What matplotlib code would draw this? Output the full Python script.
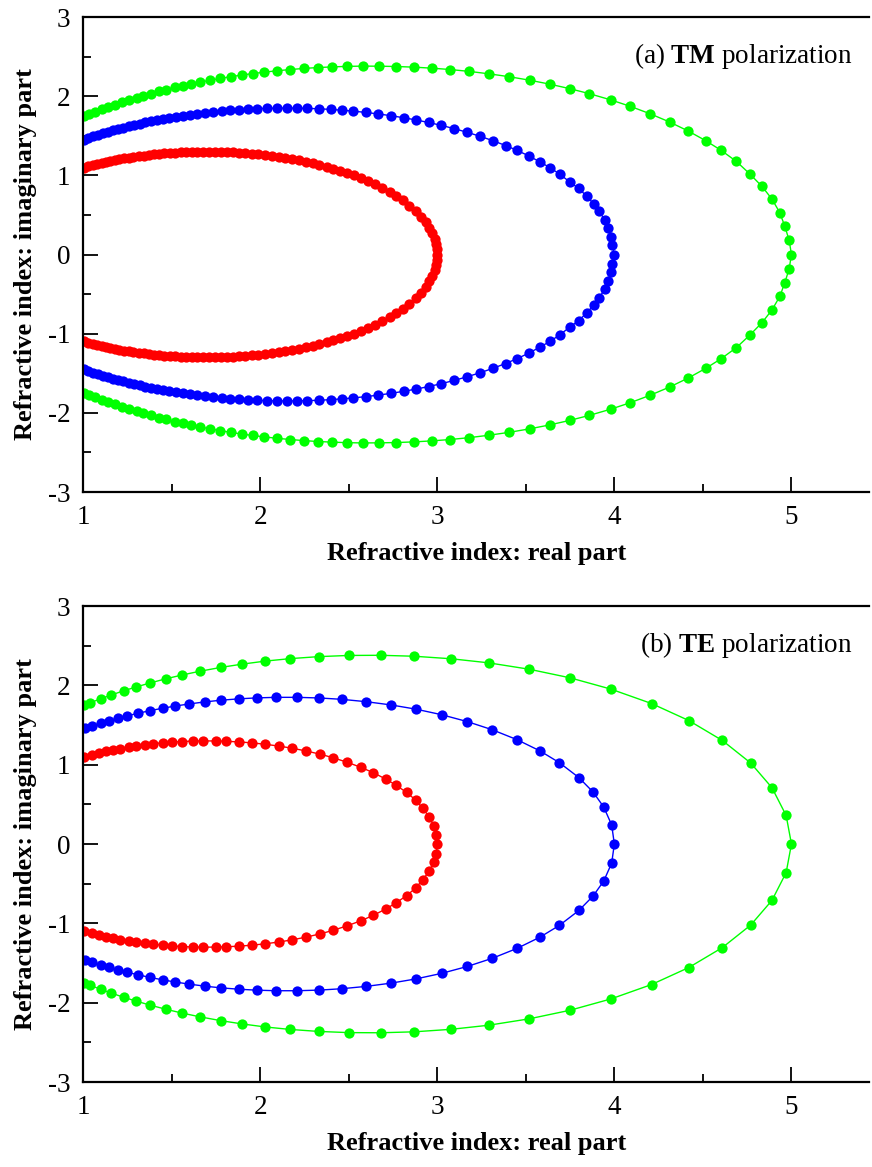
import matplotlib
matplotlib.use("Agg")
from matplotlib import pyplot as plt
from matplotlib.ticker import MultipleLocator

# metade superior de cada curva (parte imaginaria >= 0), da esquerda ate ao vertice
tm_red_x = [1.003, 1.028, 1.054, 1.079, 1.105, 1.130, 1.155, 1.181, 1.206, 1.232, 1.257,
            1.285, 1.314, 1.342, 1.370, 1.398, 1.427, 1.458, 1.489, 1.520, 1.551, 1.582, 1.613, 1.644,
            1.678, 1.712, 1.746, 1.780, 1.814, 1.847, 1.881, 1.915,
            1.953, 1.990, 2.028, 2.066, 2.106, 2.143, 2.182, 2.220, 2.260, 2.298, 2.335, 2.375,
            2.414, 2.452, 2.492, 2.531, 2.571, 2.610, 2.650, 2.689, 2.731, 2.768, 2.806, 2.843,
            2.878, 2.908, 2.934, 2.955, 2.972, 2.985, 2.993, 2.998, 3.000]
tm_red_y = [1.097, 1.113, 1.128, 1.142, 1.156, 1.168, 1.180, 1.192, 1.203, 1.213, 1.222,
            1.232, 1.241, 1.250, 1.257, 1.264, 1.271, 1.277, 1.283, 1.287, 1.291, 1.295, 1.297, 1.299,
            1.300, 1.300, 1.299, 1.298, 1.295, 1.292, 1.287, 1.282,
            1.275, 1.267, 1.258, 1.247, 1.235, 1.222, 1.207, 1.191, 1.173, 1.154, 1.134, 1.111,
            1.086, 1.060, 1.031, 1.000, 0.965, 0.928, 0.887, 0.844, 0.792, 0.741, 0.683, 0.619,
            0.550, 0.480, 0.410, 0.340, 0.270, 0.200, 0.135, 0.070, 0.000]

tm_blue_x = [1.003, 1.028, 1.056, 1.085, 1.113, 1.141, 1.169, 1.198, 1.226, 1.257, 1.288, 1.319, 1.350,
             1.384, 1.418, 1.452, 1.488, 1.525, 1.565, 1.605, 1.646, 1.691, 1.736, 1.784, 1.831, 1.880, 1.931, 1.983,
             2.038, 2.094, 2.151, 2.211, 2.267, 2.333, 2.399, 2.463, 2.527, 2.597, 2.667, 2.738, 2.810, 2.880,
             2.951, 3.024, 3.096, 3.169, 3.243, 3.315, 3.386, 3.450,
             3.516, 3.578, 3.638, 3.693, 3.747, 3.798, 3.843, 3.883, 3.915, 3.945, 3.966, 3.979, 3.989, 4.000]
tm_blue_y = [1.451, 1.471, 1.492, 1.513, 1.532, 1.551, 1.568, 1.586, 1.603, 1.620, 1.637, 1.653, 1.668,
             1.684, 1.699, 1.713, 1.728, 1.741, 1.755, 1.768, 1.780, 1.792, 1.803, 1.813, 1.822, 1.830, 1.837, 1.842,
             1.847, 1.849, 1.850, 1.849, 1.846, 1.841, 1.833, 1.823, 1.811, 1.795, 1.776, 1.754, 1.728, 1.700,
             1.668, 1.631, 1.590, 1.544, 1.493, 1.437, 1.377, 1.316,
             1.247, 1.172, 1.096, 1.013, 0.919, 0.836, 0.739, 0.641, 0.545, 0.439, 0.330, 0.221, 0.116, 0.000]

tm_green_x = [1.003, 1.034, 1.068, 1.105, 1.141, 1.179, 1.219, 1.262, 1.303, 1.341, 1.382,
              1.428, 1.471, 1.518, 1.563, 1.610, 1.661, 1.718, 1.774, 1.834, 1.897, 1.959,
              2.024, 2.098, 2.171, 2.249, 2.326, 2.408, 2.493, 2.582, 2.674, 2.770, 2.868, 2.970,
              3.073, 3.182, 3.291, 3.404, 3.522, 3.634, 3.747, 3.859, 3.979, 4.090,
              4.203, 4.312, 4.418, 4.516, 4.603, 4.689, 4.764, 4.834, 4.890, 4.934, 4.962, 4.987, 5.000]
tm_green_y = [1.746, 1.775, 1.804, 1.836, 1.865, 1.894, 1.924, 1.955, 1.982, 2.007, 2.033,
              2.060, 2.084, 2.110, 2.132, 2.155, 2.178, 2.202, 2.225, 2.246, 2.268, 2.286,
              2.304, 2.322, 2.337, 2.351, 2.362, 2.370, 2.377, 2.380, 2.379, 2.375, 2.367, 2.354,
              2.337, 2.313, 2.283, 2.247, 2.202, 2.153, 2.096, 2.032, 1.954, 1.872,
              1.777, 1.674, 1.559, 1.438, 1.316, 1.176, 1.020, 0.860, 0.700, 0.530, 0.360, 0.180, 0.000]

te_red_x = [1.006, 1.050, 1.090, 1.130, 1.170, 1.210, 1.260, 1.300, 1.350, 1.395,
            1.450, 1.500, 1.560, 1.620, 1.680, 1.750, 1.810, 1.880, 1.955,
            2.030, 2.105, 2.180, 2.260, 2.340, 2.410, 2.490, 2.570, 2.640, 2.710,
            2.768, 2.827, 2.878, 2.918, 2.954, 2.980, 2.995, 3.000]
te_red_y = [1.099, 1.126, 1.148, 1.168, 1.187, 1.204, 1.223, 1.237, 1.252, 1.264,
            1.276, 1.285, 1.292, 1.298, 1.300, 1.299, 1.295, 1.287, 1.275,
            1.257, 1.235, 1.208, 1.173, 1.132, 1.089, 1.032, 0.966, 0.898, 0.818,
            0.741, 0.650, 0.555, 0.450, 0.345, 0.230, 0.120, 0.000]

te_blue_x = [1.010, 1.050, 1.100, 1.145, 1.200, 1.250, 1.310, 1.380, 1.450,
             1.520, 1.600, 1.690, 1.780, 1.880, 1.980, 2.090, 2.210,
             2.335, 2.460, 2.600, 2.740, 2.880, 3.025, 3.170, 3.310,
             3.450, 3.580, 3.690, 3.800, 3.880, 3.940, 3.985, 4.000]
te_blue_y = [1.457, 1.487, 1.523, 1.553, 1.587, 1.616, 1.648, 1.682, 1.712,
             1.739, 1.766, 1.792, 1.813, 1.830, 1.842, 1.849, 1.849,
             1.841, 1.824, 1.794, 1.753, 1.700, 1.630, 1.543, 1.441,
             1.316, 1.174, 1.025, 0.837, 0.655, 0.467, 0.240, 0.000]

te_green_x = [1.005, 1.040, 1.100, 1.160, 1.230, 1.300, 1.380, 1.470, 1.560, 1.660,
              1.780, 1.900, 2.030, 2.170, 2.330, 2.500, 2.680, 2.870, 3.080, 3.290,
              3.520, 3.750, 3.980, 4.210, 4.420, 4.610, 4.770, 4.890, 4.970, 5.000]
te_green_y = [1.748, 1.780, 1.831, 1.879, 1.932, 1.980, 2.031, 2.084, 2.131, 2.178,
              2.227, 2.268, 2.306, 2.337, 2.362, 2.377, 2.379, 2.367, 2.335, 2.284,
              2.203, 2.095, 1.953, 1.771, 1.557, 1.305, 1.021, 0.710, 0.360, 0.000]

paineis = [
    ("(a) ", "TM", [(tm_red_x, tm_red_y, "#ff0000"), (tm_blue_x, tm_blue_y, "#0000ff"),
                    (tm_green_x, tm_green_y, "#00ff00")]),
    ("(b) ", "TE", [(te_red_x, te_red_y, "#ff0000"), (te_blue_x, te_blue_y, "#0000ff"),
                    (te_green_x, te_green_y, "#00ff00")]),
]

plt.rcParams['font.family'] = ['Liberation Serif', 'DejaVu Serif']
plt.rcParams['mathtext.fontset'] = 'custom'
plt.rcParams['mathtext.rm'] = 'Liberation Serif'
plt.rcParams['mathtext.bf'] = 'Liberation Serif:bold'
plt.rcParams['axes.unicode_minus'] = False


def fecha_curva(x, y):
    # a curva e simetrica: metade de baixo = conjugado da de cima
    xs = list(x) + list(x[-2::-1])
    ys = list(y) + [-v for v in y[-2::-1]]
    return xs, ys


fig = plt.figure(figsize=(8.72, 11.67), dpi=100)
posicoes = [[0.0952, 0.5784, 0.9018, 0.4070], [0.0952, 0.0728, 0.9018, 0.4079]]

for pos, (prefixo, pol, curvas) in zip(posicoes, paineis):
    ax = fig.add_axes(pos)
    for x, y, cor in curvas:
        xs, ys = fecha_curva(x, y)
        ax.plot(xs, ys, '-o', color=cor, lw=1.0, ms=7.4, mew=0)

    ax.set_xlim(1, 5.44)
    ax.set_ylim(-3, 3)
    ax.xaxis.set_major_locator(MultipleLocator(1))
    ax.xaxis.set_minor_locator(MultipleLocator(0.5))
    ax.yaxis.set_major_locator(MultipleLocator(1))
    ax.yaxis.set_minor_locator(MultipleLocator(0.5))
    ax.tick_params(which='both', direction='in', top=False, right=False, width=1.3,
                   labelsize=19.5, pad=9)
    ax.tick_params(which='major', length=11)
    ax.tick_params(which='minor', length=6)
    ax.spines['right'].set_visible(False)
    for lado in ['left', 'bottom', 'top']:
        ax.spines[lado].set_linewidth(1.6)

    ax.set_xlabel("Refractive index: real part", fontsize=19, fontweight='bold', labelpad=9)
    ax.set_ylabel("Refractive index: imaginary part", fontsize=19, fontweight='bold', labelpad=8)
    ax.text(5.345, 2.42, prefixo + r"$\mathbf{" + pol + "}$" + " polarization",
            ha='right', va='baseline', fontsize=19.5)

fig.savefig("out.png", dpi=100)
